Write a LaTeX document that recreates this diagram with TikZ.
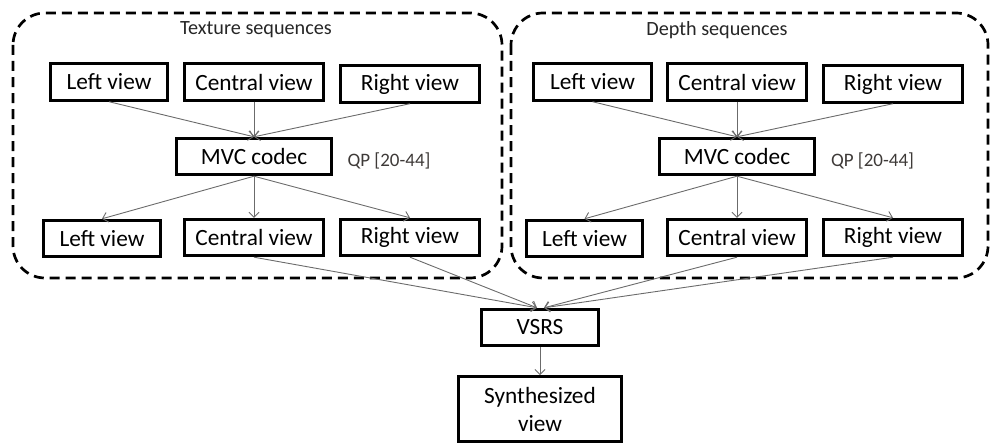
\documentclass[tikz,border=0pt]{standalone}
\usepackage{fontspec}
\setmainfont{Carlito}
\usetikzlibrary{arrows.meta}
\begin{document}
\begin{tikzpicture}[x=1pt,y=-1pt,
  box/.style={draw=black,line width=2.9pt,minimum height=36.5pt,inner sep=0pt,font=\fontsize{23.3}{28}\selectfont,text=black},
  grp/.style={draw=black,line width=2.7pt,dash pattern=on 10pt off 6pt,rounded corners=32pt},
  title/.style={font=\fontsize{20.2}{23}\selectfont,text=black!85},
  qp/.style={font=\fontsize{19}{23}\selectfont,text={rgb,255:red,62;green,58;blue,56}},
  arr/.style={draw=black!58,line width=0.9pt,-{Straight Barb[length=5pt,width=10pt]}}]
\useasboundingbox (0,0) rectangle (993,444);
% groups
\draw[grp] (13,13) rectangle (502,278);
\draw[grp] (511,13) rectangle (988,278);
\node[title] (tt) at (256,30) {Texture sequences};
\node[title] (dt) at (717,30) {Depth sequences};
% texture
\node[box,minimum width=117pt] (tL) at (109,82) {Left view};
\node[box,minimum width=139pt] (tC) at (254,82) {Central view};
\node[box,minimum width=139pt] (tR) at (410,84) {Right view};
\node[box,minimum width=155pt] (tM) at (254,156.5) {MVC codec};
\node[qp] (tQ) at (389,161) {QP [20-44]};
\node[box,minimum width=117pt] (bL) at (102,238.5) {Left view};
\node[box,minimum width=139pt] (bC) at (254,237.5) {Central view};
\node[box,minimum width=139pt] (bR) at (410,237.5) {Right view};
% depth
\node[box,minimum width=118pt] (dL) at (592.5,82) {Left view};
\node[box,minimum width=139pt] (dC) at (737,82) {Central view};
\node[box,minimum width=139pt] (dR) at (893,84) {Right view};
\node[box,minimum width=155pt] (dM) at (737,156.5) {MVC codec};
\node[qp] (dQ) at (872.5,161) {QP [20-44]};
\node[box,minimum width=116pt] (eL) at (584.5,238.5) {Left view};
\node[box,minimum width=139pt] (eC) at (737,237.5) {Central view};
\node[box,minimum width=139pt] (eR) at (893,237.5) {Right view};
% bottom
\node[box,minimum width=117pt] (vsrs) at (540,327.5) {VSRS};
\node[box,minimum width=163pt,minimum height=65pt,align=center] (syn) at (540,409) {Synthesized\\view};
% arrows texture
\draw[arr] (tL.south) -- (tM.north);
\draw[arr] (tC.south) -- (tM.north);
\draw[arr] (tR.south) -- (tM.north);
\draw[arr] (tM.south) -- (bL.north);
\draw[arr] (tM.south) -- (bC.north);
\draw[arr] (tM.south) -- (bR.north);
% arrows depth
\draw[arr] (dL.south) -- (dM.north);
\draw[arr] (dC.south) -- (dM.north);
\draw[arr] (dR.south) -- (dM.north);
\draw[arr] (dM.south) -- (eL.north);
\draw[arr] (dM.south) -- (eC.north);
\draw[arr] (dM.south) -- (eR.north);
% to VSRS
\draw[arr] (bC.south) -- ([xshift=-3pt]vsrs.north);
\draw[arr] (bR.south) -- ([xshift=-3pt]vsrs.north);
\draw[arr] (eC.south) -- ([xshift=4pt]vsrs.north);
\draw[arr] (eR.south) -- ([xshift=4pt]vsrs.north);
\draw[arr] (vsrs.south) -- (syn.north);
\end{tikzpicture}
\end{document}
